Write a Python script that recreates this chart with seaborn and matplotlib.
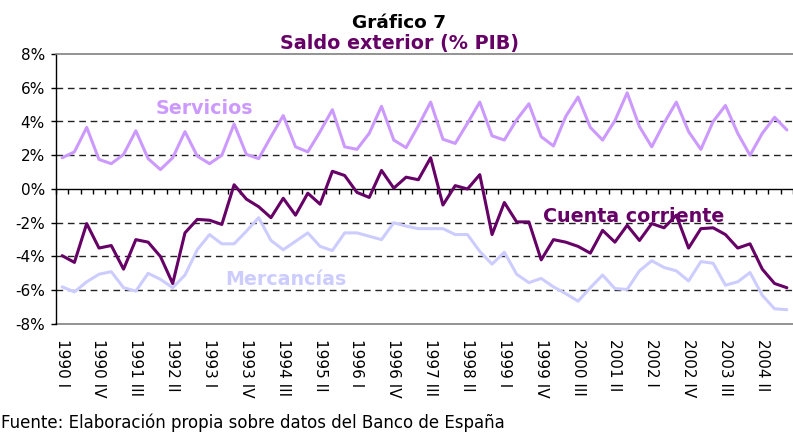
import numpy as np
import pandas as pd
import matplotlib
matplotlib.use("Agg")
import matplotlib.pyplot as plt
import seaborn as sns

# ---------------- data ----------------
anios = list(range(1990, 2005))
trimestres = ["I", "II", "III", "IV"]
periodos = [f"{a} {t}" for a in anios for t in trimestres]

servicios = [1.85, 2.2, 3.65, 1.75, 1.5, 2.05, 3.45, 1.8, 1.15, 1.85,
             3.4, 1.95, 1.5, 2.0, 3.85, 2.05, 1.8, 3.1, 4.35, 2.5,
             2.2, 3.4, 4.7, 2.5, 2.35, 3.3, 4.9, 2.9, 2.45, 3.75,
             5.15, 2.95, 2.7, 3.9, 5.15, 3.15, 2.9, 4.1, 5.05, 3.1,
             2.55, 4.3, 5.45, 3.65, 2.9, 4.05, 5.7, 3.7, 2.5, 3.9,
             5.15, 3.4, 2.35, 4.0, 4.95, 3.3, 2.0, 3.3, 4.25, 3.5]

cuenta_corriente = [-3.95, -4.35, -2.05, -3.5, -3.35, -4.75, -3.0, -3.15, -4.0, -5.6,
                    -2.6, -1.8, -1.85, -2.1, 0.25, -0.6, -1.05, -1.7, -0.55, -1.55,
                    -0.25, -0.9, 1.05, 0.8, -0.2, -0.5, 1.1, 0.05, 0.7, 0.55,
                    1.85, -0.95, 0.2, 0.0, 0.85, -2.7, -0.8, -1.95, -1.95, -4.2,
                    -3.0, -3.15, -3.4, -3.8, -2.45, -3.15, -2.15, -3.05, -2.05, -2.3,
                    -1.55, -3.5, -2.35, -2.3, -2.7, -3.5, -3.25, -4.75, -5.6, -5.85]

mercancias = [-5.8, -6.1, -5.5, -5.05, -4.9, -5.85, -6.05, -5.0, -5.35, -5.85,
              -5.1, -3.6, -2.7, -3.25, -3.25, -2.5, -1.7, -3.05, -3.6, -3.1,
              -2.6, -3.4, -3.65, -2.6, -2.6, -2.8, -3.0, -2.0, -2.2, -2.35,
              -2.35, -2.35, -2.7, -2.7, -3.7, -4.45, -3.75, -5.05, -5.55, -5.3,
              -5.8, -6.2, -6.65, -5.85, -5.1, -5.9, -5.95, -4.85, -4.25, -4.65,
              -4.85, -5.45, -4.3, -4.4, -5.7, -5.5, -4.95, -6.3, -7.1, -7.15]

series_orden = ["Mercancías", "Servicios", "Cuenta corriente"]
colores = {"Servicios": "#CC99FF", "Cuenta corriente": "#660066", "Mercancías": "#CCCCFF"}

y_ticks = [8, 6, 4, 2, 0, -2, -4, -6, -8]
y_tick_labels = [f"{v}%" for v in y_ticks]
niveles_rejilla = [6, 4, 2, -2, -4, -6]
etiquetas_x = periodos[::3]

titulo = "Gráfico 7"
subtitulo = "Saldo exterior (% PIB)"
fuente = "Fuente: Elaboración propia sobre datos del Banco de España"

# ---------------- figure ----------------
sns.set_theme(style="white")
plt.rcParams['font.family'] = ['DejaVu Sans']

W, H = 793, 436
fig = plt.figure(figsize=(W / 100, H / 100), dpi=100)
ax = fig.add_axes([56 / W, (H - 324) / H, (W - 56) / W, (324 - 54) / H])

n = len(periodos)
df = pd.DataFrame({
    "idx": np.tile(np.arange(n), 3),
    "serie": ["Servicios"] * n + ["Cuenta corriente"] * n + ["Mercancías"] * n,
    "valor": servicios + cuenta_corriente + mercancias,
})

sns.lineplot(data=df, x="idx", y="valor", hue="serie", hue_order=series_orden,
             palette=colores, linewidth=2.2, legend=False, sort=False,
             estimator=None, ax=ax, zorder=3)

ax.set_xlim(-0.5, 58.84)
ax.set_ylim(-8, 8)
ax.set_xlabel("")
ax.set_ylabel("")

for v in niveles_rejilla:
    ax.axhline(v, color="#222222", lw=1.0, ls=(0, (4.8, 3.4)), zorder=1)

# spines
ax.spines["right"].set_visible(False)
ax.spines["top"].set_color("#808080")
ax.spines["top"].set_linewidth(1.2)
ax.spines["left"].set_color("black")
ax.spines["left"].set_linewidth(1.0)
ax.spines["bottom"].set_position(("data", 0))
ax.spines["bottom"].set_color("black")
ax.spines["bottom"].set_linewidth(1.0)

# category boundary ticks on the 0 line
ax.set_xticks(np.arange(-0.5, n, 1.0))
ax.set_xticklabels([])
ax.tick_params(axis="x", bottom=True, direction="out", length=3.5, width=1, color="black")

# y axis
ax.set_yticks(y_ticks, y_tick_labels)
ax.tick_params(axis="y", left=True, direction="out", length=3.5, width=1,
               color="black", pad=4.5, labelsize=11, labelcolor="black")

# bottom label axis
sec = ax.secondary_xaxis("bottom")
sec.set_xticks(list(range(0, n, 3)), etiquetas_x)
sec.tick_params(axis="x", length=0, pad=11, labelsize=11, labelrotation=-90, labelcolor="black")
sec.spines["bottom"].set_color("#808080")
sec.spines["bottom"].set_linewidth(1.2)

# series labels
ax.text(11.6, 4.42, "Servicios", color=colores["Servicios"], fontsize=13.7,
        fontweight="bold", ha="center", va="baseline", zorder=4)
ax.text(46.54, -1.93, "Cuenta corriente", color=colores["Cuenta corriente"], fontsize=13.7,
        fontweight="bold", ha="center", va="baseline", zorder=4)
ax.text(18.24, -5.67, "Mercancías", color=colores["Mercancías"], fontsize=13.7,
        fontweight="bold", ha="center", va="baseline", zorder=4)

# titles and source
fig.text(0.503, (H - 28) / H, titulo, fontsize=13.3, fontweight="bold",
         color="black", ha="center", va="baseline")
fig.text(0.504, (H - 49) / H, subtitulo, fontsize=13.8, fontweight="bold",
         color="#660066", ha="center", va="baseline")
fig.text(1 / W, (H - 428) / H, fuente, fontsize=12, color="black",
         ha="left", va="baseline")

fig.savefig("out.png", dpi=100)
